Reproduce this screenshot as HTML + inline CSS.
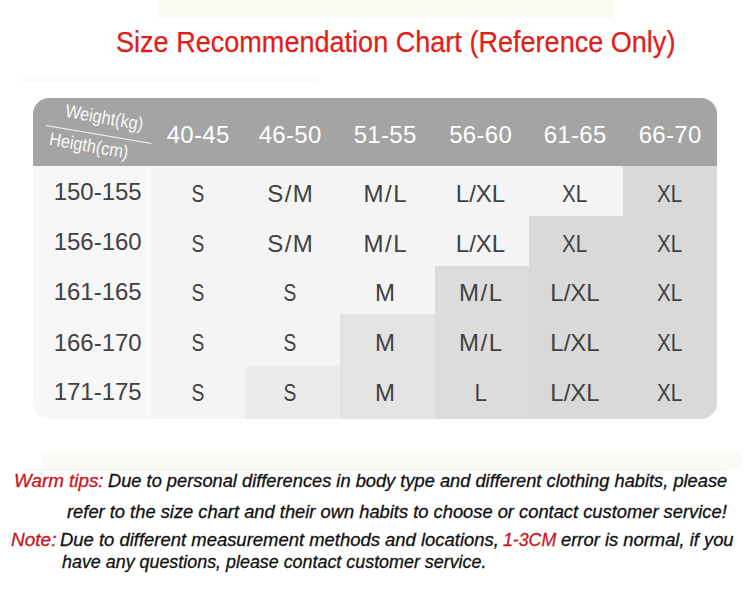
<!DOCTYPE html>
<html><head><meta charset="utf-8">
<style>
html,body{margin:0;padding:0;}
body{width:750px;height:597px;position:relative;overflow:hidden;background:#fff;font-family:"Liberation Sans",sans-serif;}
.a{position:absolute;}
.band1{left:158px;top:0;width:455px;height:18px;background:#f9f9f2;}
.band2{left:21px;top:77px;width:298px;height:5px;background:#fbfbf5;}
.band3{left:41px;top:452px;width:700px;height:16.5px;background:#fbfbf5;border-radius:0 6px 6px 0;}
.title{left:115.5px;top:25px;-webkit-text-stroke:0.25px currentColor;white-space:nowrap;color:#df201a;font-size:29px;line-height:34px;transform:scaleX(0.933);transform-origin:0 0;}
.tbl{left:33px;top:98px;width:684px;height:321px;border-radius:16px;overflow:hidden;background:#f4f4f4;}
.hdr{left:0;top:0;width:684px;height:68px;background:#a4a4a4;}
.t{position:absolute;width:120px;text-align:center;font-size:24px;line-height:24px;white-space:nowrap;color:#414141;}
.t span{display:inline-block;}
.t.h{color:#fff;}
.diag{position:absolute;white-space:nowrap;color:#f8f8f8;font-size:18.5px;line-height:18px;transform-origin:0 0;}
.foot{position:absolute;white-space:nowrap;font-style:italic;font-size:18px;line-height:20px;color:#111;-webkit-text-stroke:0.3px currentColor;transform-origin:0 0;}
.red{color:#c8161d;}
</style></head><body>
<div class="a band1"></div>
<div class="a band2"></div>
<div class="a title">Size Recommendation Chart (Reference Only)</div>
<div class="a tbl">
  <div class="a hdr"></div>
  <div class="a" style="left:0;top:68px;width:118px;height:253px;background:#f7f7f7"></div>
  <div class="a" style="left:112px;top:68px;width:6px;height:253px;background:#f9f9f9"></div>
  <div class="a" style="left:213px;top:268px;width:94px;height:53px;background:#ebebeb"></div>
  <div class="a" style="left:307px;top:216px;width:95px;height:105px;background:#e3e3e3"></div>
  <div class="a" style="left:402px;top:168px;width:94px;height:153px;background:#dcdcdc"></div>
  <div class="a" style="left:496px;top:118px;width:94px;height:203px;background:#d9d9d9"></div>
  <div class="a" style="left:590px;top:68px;width:94px;height:253px;background:#d9d9d9"></div>
  <div class="a" style="left:13px;top:27px;width:107px;height:1.4px;background:#f4f4f4;transform:rotate(9.7deg);transform-origin:0 0;"></div>
  <div class="diag" style="left:34px;top:4.3px;transform:rotate(10deg) scaleX(0.885)">Weight(kg)</div>
  <div class="diag" style="left:18px;top:32.2px;transform:rotate(10deg) scaleX(0.885)">Heigth(cm)</div>
</div>
<div class="t h" style="left:138.0px;top:122.9px"><span style="letter-spacing:0.3px;margin-right:-0.3px">40-45</span></div>
<div class="t h" style="left:230.0px;top:122.9px"><span style="letter-spacing:0.3px;margin-right:-0.3px">46-50</span></div>
<div class="t h" style="left:325.0px;top:122.9px"><span style="letter-spacing:0.3px;margin-right:-0.3px">51-55</span></div>
<div class="t h" style="left:420.5px;top:122.9px"><span style="letter-spacing:0.3px;margin-right:-0.3px">56-60</span></div>
<div class="t h" style="left:515.0px;top:122.9px"><span style="letter-spacing:0.3px;margin-right:-0.3px">61-65</span></div>
<div class="t h" style="left:610.0px;top:122.9px"><span style="letter-spacing:0.3px;margin-right:-0.3px">66-70</span></div>
<div class="t l" style="left:37.7px;top:179.7px"><span style="">150-155</span></div>
<div class="t d" style="left:138.0px;top:181.5px"><span style="transform:scaleX(0.8)">S</span></div>
<div class="t d" style="left:230.0px;top:181.5px"><span style="letter-spacing:1.5px;margin-right:-1.5px">S/M</span></div>
<div class="t d" style="left:325.0px;top:181.5px"><span style="letter-spacing:1.6px;margin-right:-1.6px">M/L</span></div>
<div class="t d" style="left:420.5px;top:181.5px"><span style="">L/XL</span></div>
<div class="t d" style="left:515.0px;top:181.5px"><span style="transform:scaleX(0.86)">XL</span></div>
<div class="t d" style="left:610.0px;top:181.5px"><span style="transform:scaleX(0.86)">XL</span></div>
<div class="t l" style="left:37.7px;top:229.8px"><span style="">156-160</span></div>
<div class="t d" style="left:138.0px;top:231.8px"><span style="transform:scaleX(0.8)">S</span></div>
<div class="t d" style="left:230.0px;top:231.8px"><span style="letter-spacing:1.5px;margin-right:-1.5px">S/M</span></div>
<div class="t d" style="left:325.0px;top:231.8px"><span style="letter-spacing:1.6px;margin-right:-1.6px">M/L</span></div>
<div class="t d" style="left:420.5px;top:231.8px"><span style="">L/XL</span></div>
<div class="t d" style="left:515.0px;top:231.8px"><span style="transform:scaleX(0.86)">XL</span></div>
<div class="t d" style="left:610.0px;top:231.8px"><span style="transform:scaleX(0.86)">XL</span></div>
<div class="t l" style="left:37.7px;top:279.8px"><span style="">161-165</span></div>
<div class="t d" style="left:138.0px;top:281.0px"><span style="transform:scaleX(0.8)">S</span></div>
<div class="t d" style="left:230.0px;top:281.0px"><span style="transform:scaleX(0.8)">S</span></div>
<div class="t d" style="left:325.0px;top:281.0px"><span style="">M</span></div>
<div class="t d" style="left:420.5px;top:281.0px"><span style="letter-spacing:1.6px;margin-right:-1.6px">M/L</span></div>
<div class="t d" style="left:515.0px;top:281.0px"><span style="">L/XL</span></div>
<div class="t d" style="left:610.0px;top:281.0px"><span style="transform:scaleX(0.86)">XL</span></div>
<div class="t l" style="left:37.7px;top:330.8px"><span style="">166-170</span></div>
<div class="t d" style="left:138.0px;top:331.2px"><span style="transform:scaleX(0.8)">S</span></div>
<div class="t d" style="left:230.0px;top:331.2px"><span style="transform:scaleX(0.8)">S</span></div>
<div class="t d" style="left:325.0px;top:331.2px"><span style="">M</span></div>
<div class="t d" style="left:420.5px;top:331.2px"><span style="letter-spacing:1.6px;margin-right:-1.6px">M/L</span></div>
<div class="t d" style="left:515.0px;top:331.2px"><span style="">L/XL</span></div>
<div class="t d" style="left:610.0px;top:331.2px"><span style="transform:scaleX(0.86)">XL</span></div>
<div class="t l" style="left:37.7px;top:380.0px"><span style="">171-175</span></div>
<div class="t d" style="left:138.0px;top:380.9px"><span style="transform:scaleX(0.8)">S</span></div>
<div class="t d" style="left:230.0px;top:380.9px"><span style="transform:scaleX(0.8)">S</span></div>
<div class="t d" style="left:325.0px;top:380.9px"><span style="">M</span></div>
<div class="t d" style="left:420.5px;top:380.9px"><span style="transform:scaleX(0.94)">L</span></div>
<div class="t d" style="left:515.0px;top:380.9px"><span style="">L/XL</span></div>
<div class="t d" style="left:610.0px;top:380.9px"><span style="transform:scaleX(0.86)">XL</span></div>
<div class="foot red" style="left:13.91px;top:471.20px;transform:scaleX(1.0458)">Warm tips:</div>
<div class="foot" style="left:108.19px;top:471.20px;transform:scaleX(1.0144)">Due to personal differences in body type and different clothing habits, please</div>
<div class="foot" style="left:67.0px;top:502.20px;transform:scaleX(1.0176)">refer to the size chart and their own habits to choose or contact customer service!</div>
<div class="foot red" style="left:10.64px;top:530.30px;transform:scaleX(1.0561)">Note:</div>
<div class="foot" style="left:59.98px;top:530.30px;transform:scaleX(1.0249)">Due to different measurement methods and locations,</div>
<div class="foot red" style="left:502.52px;top:530.30px;transform:scaleX(0.9849)">1-3CM</div>
<div class="foot" style="left:561.08px;top:530.30px;transform:scaleX(1.0208)">error is normal, if you</div>
<div class="foot" style="left:61.8px;top:552.10px;transform:scaleX(0.9934)">have any questions, please contact customer service.</div>

<div class="a band3"></div>
<div class="a" style="left:26px;top:469px;width:700px;height:1px;background:#efefef"></div>
</body></html>
